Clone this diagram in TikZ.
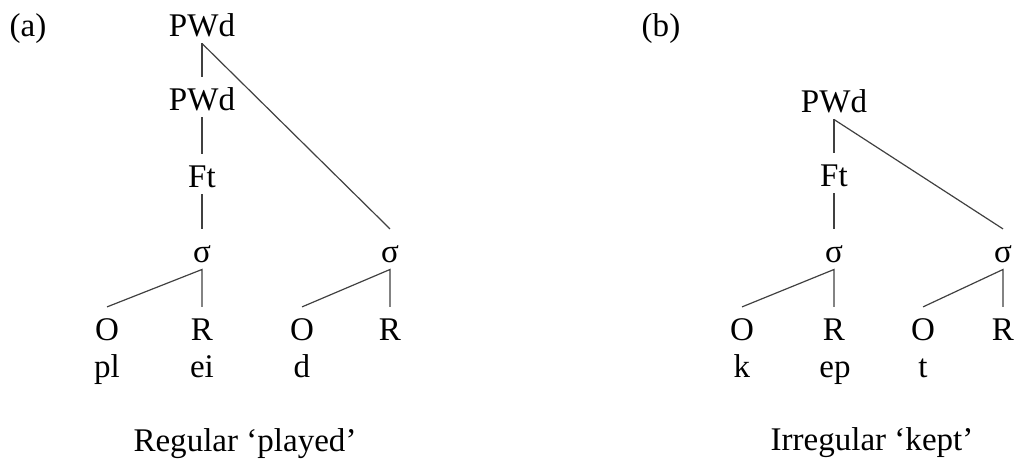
\documentclass[tikz,border=0pt]{standalone}
\usepackage{fontspec}
\setmainfont{Liberation Serif}

\begin{document}
\begin{tikzpicture}[x=0.025cm,y=-0.025cm,
  lbl/.style={anchor=base,inner sep=0pt,text height=0.82cm,text depth=0.18cm,font=\fontsize{23.5}{28}\selectfont},
  txt/.style={anchor=base,inner sep=0pt,font=\fontsize{23.5}{28}\selectfont},
  edge/.style={draw=black!75,line width=0.85pt}]
\useasboundingbox (0,0) rectangle (1015,460);
% (a) regular
\node[txt] (tagA) at (28,36) {(a)};
\node[lbl] (pwdA) at (202,36) {PWd};
\node[lbl] (pwdAin) at (202,110) {PWd};
\node[lbl] (ftA) at (202,187) {Ft};
\node[lbl] (sylA1) at (202,262) {σ};
\node[lbl] (sylA2) at (390,262) {σ};
\node[lbl] (onsA1) at (107,340) {O};
\node[lbl] (rimA1) at (202,340) {R};
\node[lbl] (onsA2) at (302,340) {O};
\node[lbl] (rimA2) at (390,340) {R};
\node[txt] (segA1) at (107,377) {pl};
\node[txt] (segA2) at (202,377) {ei};
\node[txt] (segA3) at (302,377) {d};
\node[txt] (capA) at (245,451) {Regular ‘played’};
\draw[edge] (pwdA.south)--(pwdAin.north);
\draw[edge] (pwdAin.south)--(ftA.north);
\draw[edge] (ftA.south)--(sylA1.north);
\draw[edge] (pwdA.south)--(sylA2.north);
\draw[edge] (onsA1.north)--(sylA1.south)--(rimA1.north);
\draw[edge] (onsA2.north)--(sylA2.south)--(rimA2.north);
% (b) irregular
\node[txt] (tagB) at (661,36) {(b)};
\node[lbl] (pwdB) at (834,112) {PWd};
\node[lbl] (ftB) at (834,186) {Ft};
\node[lbl] (sylB1) at (834,262) {σ};
\node[lbl] (sylB2) at (1003,262) {σ};
\node[lbl] (onsB1) at (742,340) {O};
\node[lbl] (rimB1) at (834,340) {R};
\node[lbl] (onsB2) at (923,340) {O};
\node[lbl] (rimB2) at (1003,340) {R};
\node[txt] (segB1) at (742,377) {k};
\node[txt] (segB2) at (835,377) {ep};
\node[txt] (segB3) at (923,377) {t};
\node[txt] (capB) at (872,450) {Irregular ‘kept’};
\draw[edge] (pwdB.south)--(ftB.north);
\draw[edge] (ftB.south)--(sylB1.north);
\draw[edge] (pwdB.south)--(sylB2.north);
\draw[edge] (onsB1.north)--(sylB1.south)--(rimB1.north);
\draw[edge] (onsB2.north)--(sylB2.south)--(rimB2.north);
\end{tikzpicture}
\end{document}
